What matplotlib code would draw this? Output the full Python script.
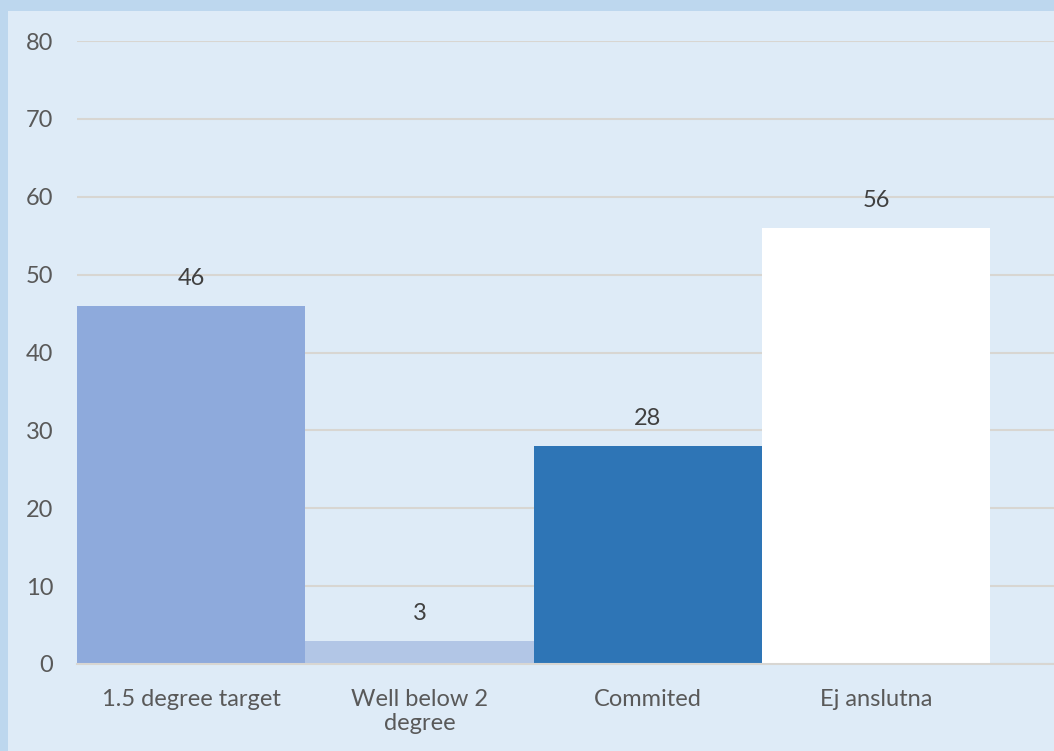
import matplotlib
matplotlib.use("Agg")
import matplotlib.pyplot as plt
from matplotlib.patches import Rectangle

categories = ["1.5 degree target", "Well below 2\ndegree", "Commited", "Ej anslutna"]
values = [46, 3, 28, 56]
colors = ["#8eaadc", "#b2c6e6", "#2e75b6", "#ffffff"]
yticks = [0, 10, 20, 30, 40, 50, 60, 70, 80]

W, H = 1054, 751
fig = plt.figure(figsize=(W / 100, H / 100), dpi=100)
fig.patch.set_facecolor("#bdd7ee")
fig.patches.append(Rectangle((8 / W, 0), 1, 1 - 11 / H, transform=fig.transFigure,
                             facecolor="#deebf7", edgecolor="none", zorder=-10))

left, right = 77 / W, 1.0
bottom, top = 1 - 664 / H, 1 - 41 / H
ax = fig.add_axes([left, bottom, right - left, top - bottom])
ax.set_zorder(5)
ax.set_facecolor("none")

font = ["Lato", "DejaVu Sans"]
x = list(range(len(categories)))
ax.bar(x, values, width=1.0, color=colors, zorder=3)
for xi, v in zip(x, values):
    ax.annotate(str(v), (xi, v), xytext=(0, 12), textcoords="offset points",
                ha="center", va="bottom", fontsize=17, color="#404040", family=font)

ax.set_xlim(-0.5, 3.78)
ax.set_ylim(0, 80)
ax.set_yticks(yticks)
ax.set_yticklabels([str(t) for t in yticks], family=font, fontsize=17, color="#595959")
ax.set_xticks(x)
ax.set_xticklabels(categories, family=font, fontsize=17, color="#595959", linespacing=1.15)
ax.tick_params(axis="y", length=0, pad=17)
ax.tick_params(axis="x", length=0, pad=18)
ax.grid(axis="y", color="#d8d6d2", linewidth=1.5, zorder=1)
for s in ["top", "right", "left"]:
    ax.spines[s].set_visible(False)
ax.spines["bottom"].set_color("#d8d6d2")
ax.spines["bottom"].set_linewidth(1.5)
ax.spines["bottom"].set_zorder(4)

fig.savefig("out.png", dpi=100, facecolor=fig.get_facecolor())
